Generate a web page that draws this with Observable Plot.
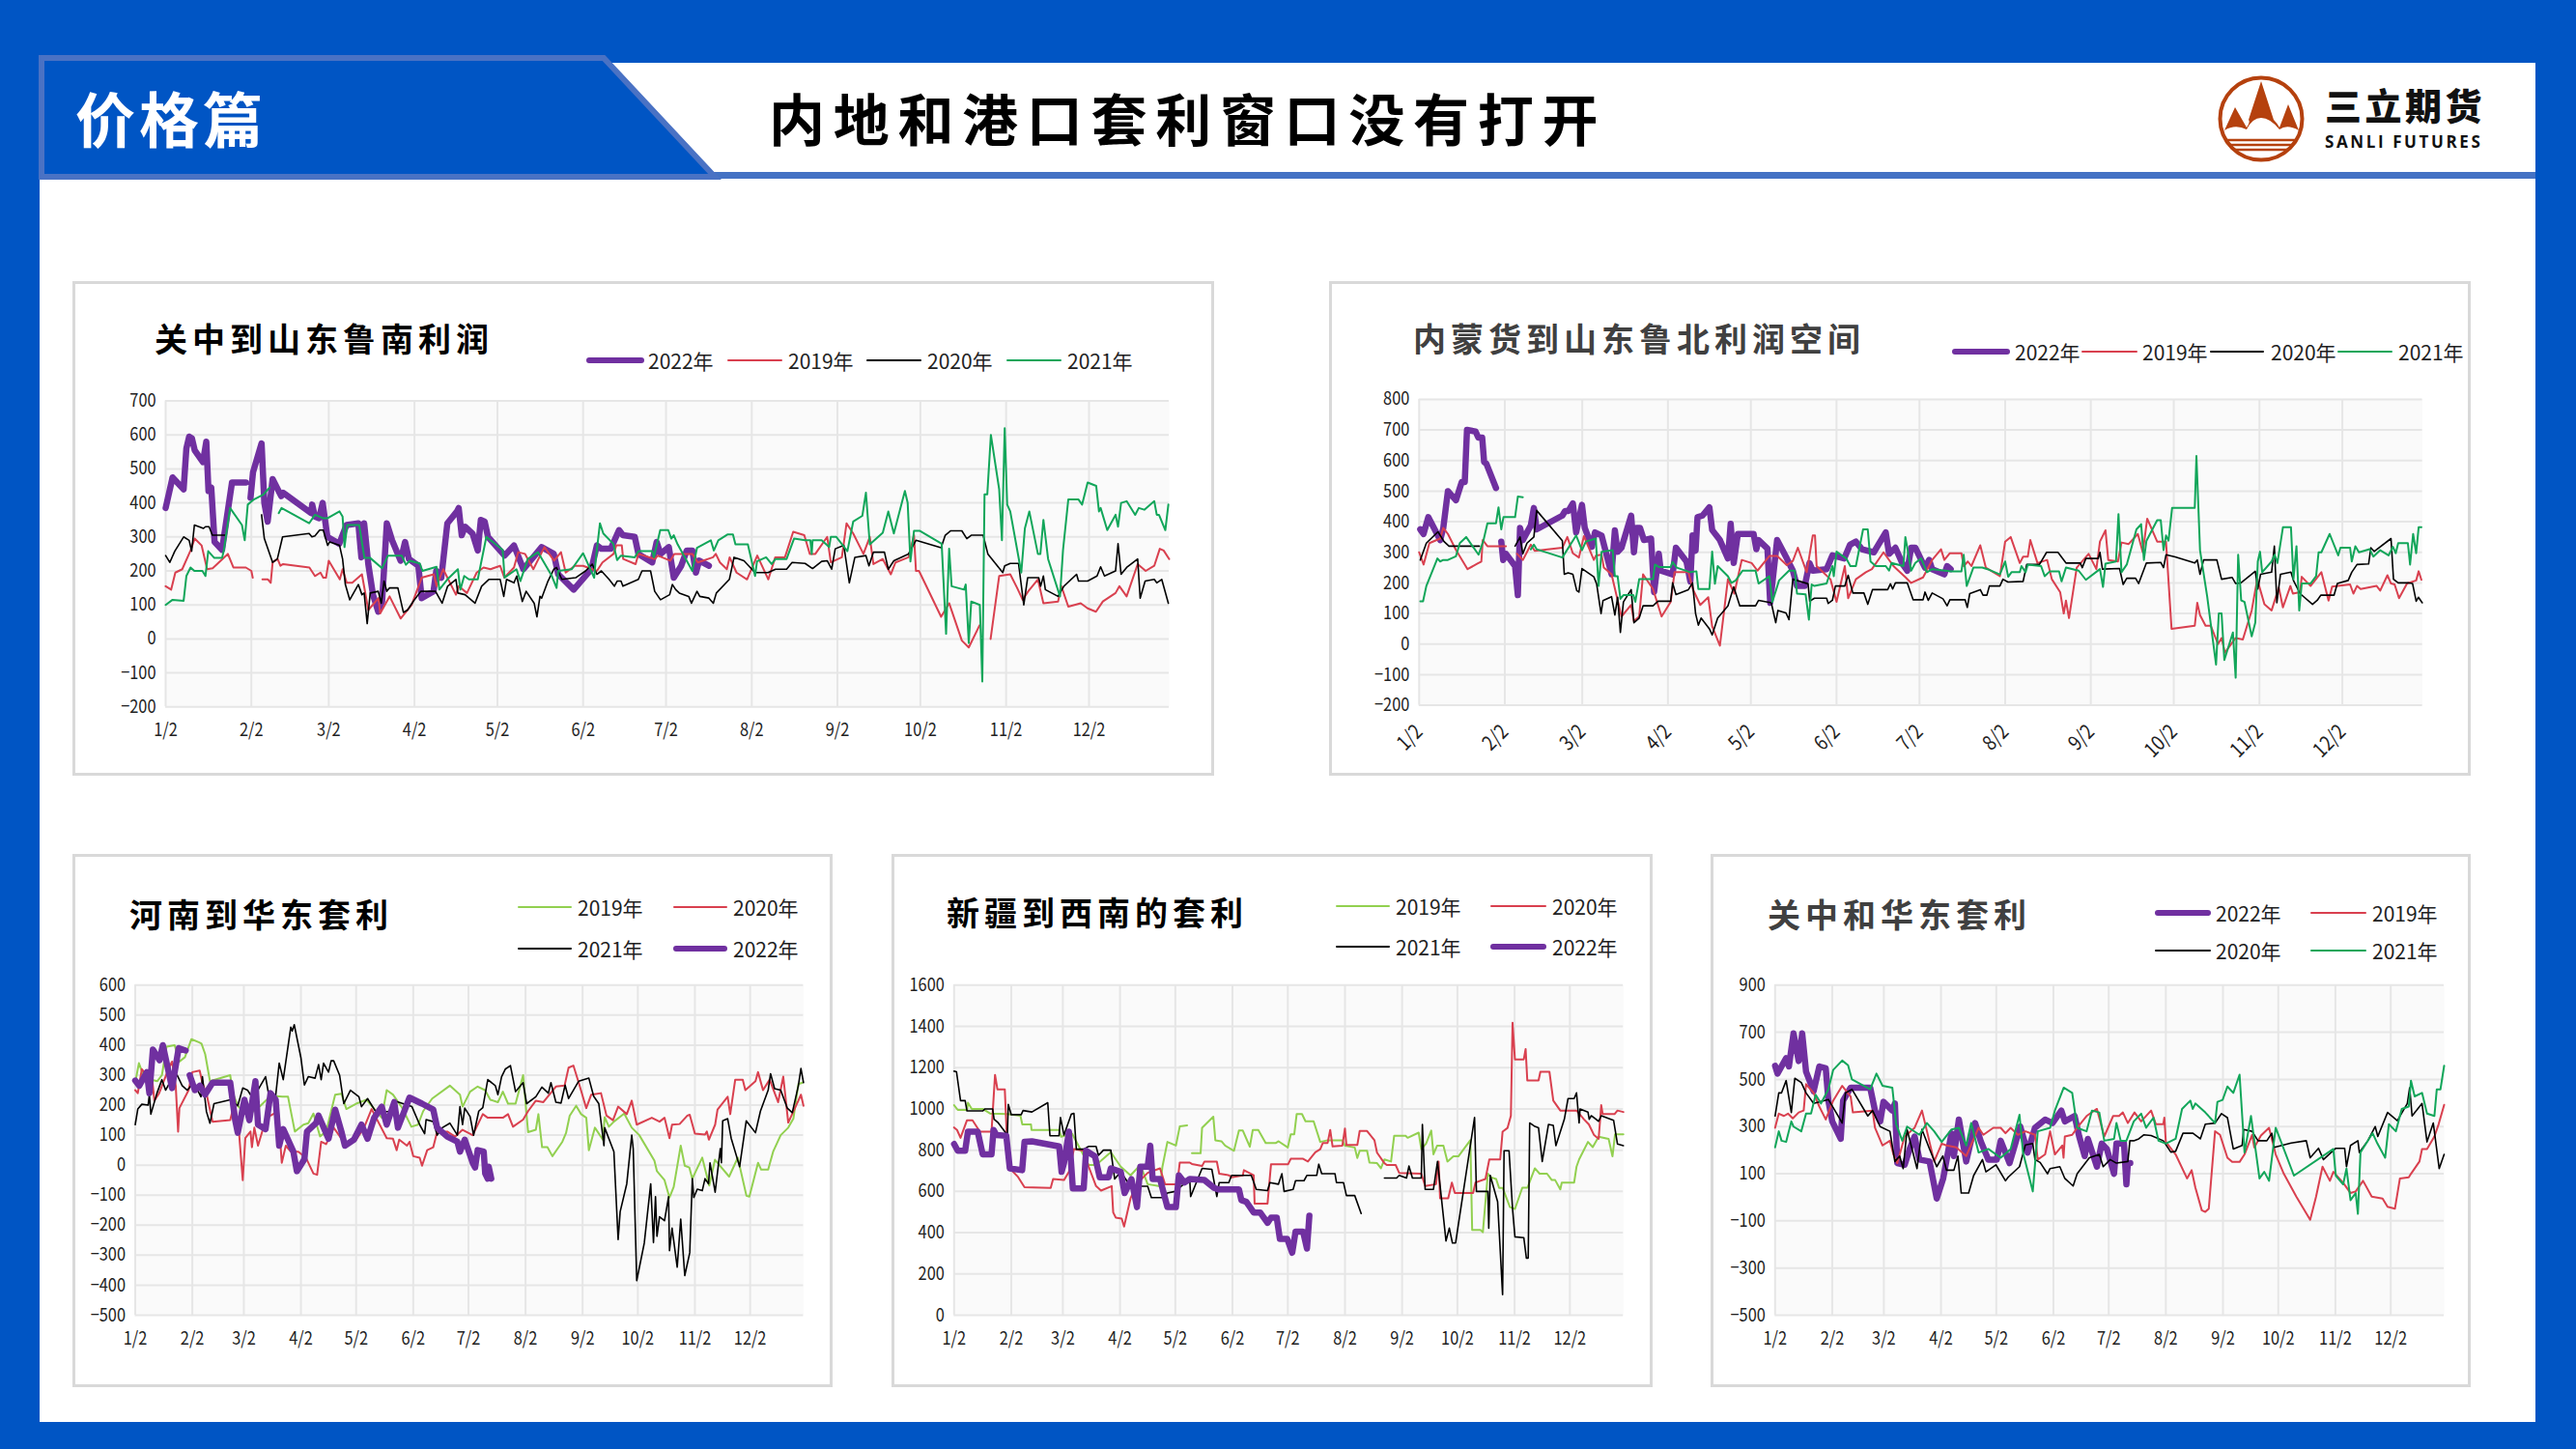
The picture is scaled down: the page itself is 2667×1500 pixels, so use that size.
<!DOCTYPE html>
<html lang="zh"><head><meta charset="utf-8">
<script src="https://cdn.jsdelivr.net/npm/d3@7"></script>
<script src="https://cdn.jsdelivr.net/npm/@observablehq/plot@0.6"></script>
<style>
html,body{margin:0;padding:0;background:#0055c4}
#page{position:relative;width:2667px;height:1500px;overflow:hidden;background:#0055c4;font-family:"Noto Sans CJK SC",sans-serif}
#sheet{position:absolute;left:41px;top:65px;width:2584px;height:1407px;background:#fff}
#chrome{position:absolute;left:0;top:0}
.panel{position:absolute;box-sizing:border-box;border:3px solid #d9d9d9;background:#fff}
.panel svg{position:absolute;overflow:visible;max-width:none}
.title{position:absolute;font-weight:700;font-size:34px;letter-spacing:5px;line-height:40px;white-space:nowrap}
.lg{position:absolute;font-family:"Liberation Sans Narrow","Noto Sans CJK SC",sans-serif;font-size:21px;line-height:24px;color:#222;white-space:nowrap}
.sw{position:absolute;border-radius:3px}
</style></head><body>
<div id="page">
<div id="sheet"></div>
<svg id="chrome" width="2667" height="1500" style="font-family:'Noto Sans CJK SC'">
 <rect x="41" y="178" width="2584" height="7" fill="#4472c4"/>
 <polygon points="43,60 625,60 740,183 43,183" fill="#0055c4" stroke="#4a72c4" stroke-width="6"/>
 <text x="78" y="148" fill="#fff" font-size="62" font-weight="700" letter-spacing="4">价格篇</text>
 <text x="796" y="146" fill="#000" font-size="58" font-weight="700" letter-spacing="8.7">内地和港口套利窗口没有打开</text>
 <circle cx="2341" cy="123" r="42.5" fill="none" stroke="#b5410e" stroke-width="4"/>
 <path d="M2303 135 L2314 111 L2326 132 Q2330 126 2328 124 L2341 84 L2354 124 Q2358 128 2360 132 L2369 108 L2380 135 Q2368 128 2360 134 Q2350 122 2341 122 Q2332 122 2326 134 Q2314 128 2303 135Z" fill="#b5410e"/>
 <path d="M2304 145H2378M2307 150H2375M2314 155H2368" stroke="#b5410e" stroke-width="2.5"/>
 <text x="2407" y="124" fill="#111" font-size="38" font-weight="900" letter-spacing="3.5">三立期货</text>
 <text x="2407" y="153" fill="#111" font-size="17" font-weight="700" letter-spacing="2.6" style="font-family:'Open Sans'">SANLI FUTURES</text>
</svg>
</div>
<script>
const monthDays=[0,31,59,90,120,151,181,212,243,273,304,334];
const monthLabels=["1/2","2/2","3/2","4/2","5/2","6/2","7/2","8/2","9/2","10/2","11/2","12/2"];

const c1y2022=[0,385,2.5,475,6.5,440,7.5,560,8.5,595,9.5,590,10.5,555,13.5,520,14.7,580,15.5,435,16.5,445,17.7,285,20.4,262,24,460,29,460,30,null,30.7,415,31.6,490,34.7,575,35.7,400,36.9,345,38.7,470,41.8,420,42.5,430,52.6,370,53,395,54,360,55.5,355,56.8,400,58.5,300,62.8,280,65.4,335,69.7,340,70.8,240,71.8,340,73.3,220,75,130,76.9,80,78.3,110,80,340,81.9,290,85,230,86.6,285,88,235,91.4,215,92.6,120,96.9,140,97.9,200,99.7,180,101.9,340,105.4,375,106,385,107.1,305,108.3,330,111,310,112.9,260,114,350,115.4,345,116.6,300,122.6,245,126,275,129.4,205,136,270,140.4,250,142,190,147.6,145,154,205,156,275,157.6,265,161,265,164,320,165.4,305,169.7,300,171,250,176,225,177.6,285,179,250,182,270,183.8,180,186.5,215,188.5,260,190.5,260,191.8,195,193,230,196.5,215];
const c1y2019=[0,155,2,145,3.5,195,6,205,9,260,10.5,295,13,275,15,205,17,208,22.5,250,24.5,210,29,210,31,200,31.5,180,33,null,35,175,37,175,38,165,38.7,225,40.5,235,41.5,215,42.5,220,52,210,54,185,56,195,57,180,58,180,59,230,63,175,64,205,65.5,165,67.5,165,71,190,73.3,85,77,120,77.6,75,81,125,85,60,89,100,92.6,180,97,190,98,155,100.4,205,105,130,106,155,109,135,112.5,195,115,210,117.5,205,121,215,122.5,180,126,210,127.5,255,130,250,133,205,137,270,140.5,230,143,255,144.7,195,148,215,151,215,156,200,158,225,162,250,163,275,165,275,165.5,235,170,220,171,250,177,235,178,245,182.5,230,184,250,190.5,250,192.5,225,198,240,199,250,200.5,225,203,205,204,240,206.5,195,210.3,175,214,245,218,175,220.5,240,224,240,227,315,231,305,233,250,235,250,239.3,300,240.6,225,244.6,240,246.3,340,248.7,310,252.4,250,254.7,300,256,220,259.4,235,262.3,190,264,225,268.7,240,270.7,305,271.4,200,272.5,200,280.5,65,283.4,105,288,-5,290.5,-25,294.4,40,296,null,298.4,0,301.5,185,305.5,190,308,150,310,115,312,140,315.5,175,317.5,105,322.8,110,324,155,326.5,95,331,105,333.5,90,336.5,80,339,110,343.6,135,345,155,347.6,125,351.6,220,354.5,200,357.6,215,359.6,265,361,260,363,235];
const c1y2020=[0,245,1.5,225,3.3,258,6.5,300,8.5,290,9.4,258,10.4,335,13.7,325,14.4,330,15.7,330,16.9,305,21.4,305,28,null,34.7,365,35.7,295,38.7,225,40.4,235,42.3,300,51.9,310,52.9,300,54,303,55.7,320,57,320,58.6,275,59.3,285,62.9,275,64,235,65,160,66.6,115,69.7,160,71,130,71.8,135,72.9,45,74,135,76.9,140,78,105,79,170,80,140,81,150,84,150,86,78,87.5,85,89.7,112,92.3,140,97.6,140,100,105,102,155,105,175,105.7,135,108.3,130,111.9,105,114.3,155,116.9,175,121,175,122.3,125,123.3,175,126,165,127,185,129,110,130.4,140,133.3,105,134.3,65,135.4,125,136,120,138.3,170,140.4,205,141.4,210,143.3,175,148.3,180,151.9,200,154.3,220,156,190,157.6,200,160.4,175,162.3,155,163.3,170,164.7,170,165.4,155,171,175,172.3,200,175.4,200,176.9,140,179,115,182.3,130,183.3,160,184.5,145,185.8,135,189.2,125,190.2,105,192.2,140,193.2,125,196.5,120,198.1,105,199.2,135,203.9,175,205.6,240,209.2,230,212.6,200,213.2,195,217.9,195,220.6,205,224.6,205,226.6,225,231.3,222,234,207,237.3,228,239.3,230,240.9,205,242.2,265,245.3,275,247.3,165,249.3,240,253.3,245,254.4,215,256,255,260,255,261.4,205,263.4,230,268.7,250,271.4,290,280.5,268,282,305,284,318,288,318,289.8,295,291.4,305,295.7,305,297.4,250,302.8,195,303.5,215,305.5,222,308.5,222,310.4,100,311.8,180,315.8,180,316.5,155,317.5,185,318.2,145,322.8,125,324.9,155,329.5,190,330.2,170,333.5,170,336.9,185,338.2,212,339.6,185,343.6,200,344.5,280,345.6,190,347.6,210,351.6,235,352.5,120,354.3,170,357.6,175,358.5,165,360.3,175,362.7,105];
const c1y2021=[0,100,2.5,115,6.5,112,7.5,185,9,210,10.4,200,13.3,200,14.4,185,15.4,258,17.6,238,20.4,238,21,258,23.3,385,27.6,335,28.6,290,29.7,395,31.9,410,35.4,425,37.6,445,39,null,40.9,370,41.9,385,51.9,340,54,365,56.9,355,58.6,355,62.9,375,64,360,64.7,270,65.7,335,70,335,71.9,238,74,238,78.3,208,80.4,245,85.4,245,86.9,218,88.3,230,91.9,222,92.9,200,98,212,99,145,101.9,175,105.7,205,106.6,145,108,185,109.7,175,112.9,175,116,300,121.9,262,122.6,180,126.9,205,128.3,170,131,235,134.7,255,139.7,185,141.4,150,142,200,146.9,205,151,252,155,180,155.6,235,157.1,340,158.3,310,161.9,280,163.3,232,164.7,245,169.7,240,171,258,176,258,176.6,240,178.9,320,181.8,320,182.9,295,183.8,305,185.2,278,190.5,200,192.2,268,197.2,290,198.3,260,199.9,290,203.2,307,205.2,307,206.1,278,210.6,278,213.2,185,213.9,228,217.2,240,219.2,220,220.6,235,224.6,235,227.3,295,231.3,290,233.2,290,233.7,250,234,290,237.3,290,240,270,240.6,300,242.6,300,246.6,258,248.7,345,252,362,253.3,430,254.7,278,259.4,312,261.4,375,263.4,310,267.4,435,268.4,400,269.4,228,270.7,318,272.7,318,280.7,280,282.3,15,283.4,265,284.3,155,288.8,145,289.4,160,290.5,-12,291.4,110,294.5,100,295.4,-125,296.2,425,297.2,425,298.5,600,301.5,440,302.5,290,303.5,620,304.4,395,305.5,375,309.5,195,310.8,325,312.4,375,315.5,250,316.4,250,317.5,350,319.2,235,323.5,125,324.6,262,326.5,410,330.2,410,331.5,395,333.5,460,336.6,450,337.6,375,338.2,385,340.6,320,343.6,365,344.5,330,345.6,400,347.6,405,350.7,365,352,385,354,380,357.6,405,358.5,365,359.3,365,361.6,320,362.7,395];

const c2y2022=[0.4,375,1.6,360,3.3,415,7.6,340,8.7,378,10.4,500,13.3,470,15.4,530,16.5,530,17.3,700,20.4,695,21.4,675,22.8,675,23.5,595,24.3,590,27.8,510,28.8,null,29.7,335,30.4,275,31.4,295,34.7,255,35.7,160,36.5,380,37.5,340,40.4,388,41.5,445,42.5,375,51.8,420,52.8,435,54,435,55.6,460,56.8,365,58.9,455,59.9,380,62.5,318,63.6,365,66,355,69.6,228,70.8,372,71.8,302,73.2,315,76.7,420,77.7,300,78.6,380,79.9,380,81.3,340,83.9,345,85,170,86.7,295,87.4,240,91.7,228,92.9,315,96.7,270,98.1,205,98.9,355,100,305,100.7,415,102.5,420,105,447,106,373,108.8,340,111.7,280,112.7,393,113.8,265,115.3,360,121,360,122,310,122.8,340,126,312,127,135,129.5,340,133,280,135.2,240,136.7,190,139.5,190,141.2,265,142.4,240,147.4,245,149.5,290,153.8,280,155.9,325,158,335,160.2,310,164.5,300,168.8,365,170,295,172.3,315,175,260,176.6,240,178,315,179.5,315,183,250,184.5,275,185.6,245,190,228,191,255,192.3,245];
const c2y2019=[0,300,1.6,260,3.7,330,7.6,345,8.7,380,10.4,360,13.3,308,17.5,245,21.1,263,22.5,270,23,340,24.7,320,31.4,320,33,null,35.4,295,37.5,275,40.4,325,41.8,305,51.8,315,53.6,350,55.6,297,57.8,283,59.6,353,63.2,275,64,290,66,292,66.8,250,69.6,228,73.2,90,76.7,128,77.7,75,79.6,90,81,228,84.6,180,87.7,90,91,138,92.4,235,97.4,235,99,180,101.7,128,104.6,153,106,58,108.8,-5,111.7,212,114,165,116.7,275,120.3,265,122.4,240,126.7,288,129.5,288,133,258,135.2,272,137,315,140.2,235,142.4,355,143.2,355,143.8,255,148.8,212,151,138,154,255,155.2,150,158,212,161.6,235,163.8,245,168,300,171.6,255,176,218,178,200,182.3,218,185.6,275,188.8,310,190,275,192,297,196.2,297,197,255,198.5,270,199.8,255,203,323,205,250,210.1,222,212,335,214,350,217.3,265,218.5,286,220.2,286,221.1,340,223.7,265,227.2,275,228.9,212,231.9,170,233.2,100,234,142,235.1,85,237.9,250,242.2,295,245,245,246.3,335,248.3,372,249.3,275,252.8,270,254.1,332,256.7,327,260,360,261.8,300,263.4,410,267,335,270.2,335,272.2,50,280.6,60,281.5,135,282.5,95,284.5,60,286.4,60,289,0,290.3,20,291.5,-28,295.4,20,298,15,301.2,110,303.2,212,305.8,130,308.4,110,311,185,312.5,120,315.2,190,316.1,165,318.7,170,319.3,220,322.5,190,326.4,235,329,142,330.3,188,336.8,195,338,165,339.3,190,340.6,180,346.4,190,347.7,175,350.3,225,351.6,198,352.9,195,354.5,150,357.4,198,360.7,208,361.6,238,362.6,210];
const c2y2020=[0.4,275,2.6,330,6.8,367,9,335,10.8,320,21.8,320,28,null,34.7,320,36.5,350,37.5,295,39,330,41.5,350,42.5,437,51.8,338,52.5,228,53.9,233,55.6,228,57,175,57.8,170,58.9,247,63.2,220,64.2,197,65.8,100,66.5,142,69.6,155,70.8,95,71.8,153,72.8,38,73.9,138,76.7,178,77.7,70,79.6,85,81,125,84.6,125,86.4,140,91,140,91.7,200,92.9,162,97.4,178,98.9,200,100,100,101,62,102,85,105,50,106,30,108,85,111.7,125,113.8,187,116,125,121.7,125,122.8,143,127.4,135,129,70,129.8,110,132.7,102,133.8,80,135.2,212,140.7,197,141.3,140,143,150,147.4,150,148,133,149.5,143,150.6,190,154,190,155.2,225,156.9,167,160.9,167,162.3,130,164,178,169.5,178,170.5,197,171.3,180,172.3,200,176.6,200,178.7,145,182.3,145,183,170,184.2,143,185.6,167,189.5,148,191,125,192,145,197.5,145,198.3,120,199.2,165,203,178,204,160,205.4,160,206.3,190,210.1,190,211.2,212,213,203,218.5,205,219.8,260,224.4,260,227,300,231.1,300,234,265,239.2,265,239.9,250,241.2,280,245.7,280,246.3,300,247.2,245,253.4,247,254.7,195,256,215,259.2,215,260.3,198,263.1,265,268.3,267,269.3,250,270.2,292,273.5,285,280.6,265,281.5,275,282.5,228,283.8,275,288.6,275,290.3,212,294.1,218,295.4,198,297.3,200,302.5,238,303.4,180,304.4,228,308.4,235,309.4,320,310.3,135,311.6,228,315.4,235,316.3,208,318.7,165,323.2,130,324.9,143,326.2,160,331,160,332.2,198,336.1,208,337.4,235,339.3,260,343.5,262,344.3,315,345.5,303,351.6,345,352.5,212,354.2,200,358,200,359.4,198,360.7,140,361.5,153,362.9,135];
const c2y2021=[0.4,140,1.4,140,2.6,190,6.6,280,7.6,270,8.7,275,10.4,275,13.3,287,14.7,330,17,350,21.5,292,23.3,340,24.7,395,27.8,395,28.7,447,29.7,375,30.5,415,34.7,415,35.7,482,37.5,480,38.5,null,40.4,310,41.5,325,42.5,310,51.8,283,56.8,355,58.9,307,60.3,335,63.9,345,64.9,190,66,302,70,307,70.8,222,71.8,222,72.8,148,73.9,160,77.5,160,78.2,138,79.6,212,84.6,212,85.3,260,86.7,252,91,252,91.7,268,93.2,250,98.1,235,100.3,238,101,180,105,180,106,302,107,197,108,255,111.7,222,113,200,114.5,208,117,240,121.7,240,122.8,198,126.7,222,127.8,138,130.2,208,133.8,240,135.9,240,136.7,165,139.8,163,141,80,142,195,143,190,147.4,198,149.5,255,150,222,151,302,154.5,280,156,255,158,255,160.6,375,162.3,375,163.3,270,165.2,255,168.8,255,170,240,170.9,265,175.2,255,175.9,350,178,240,179.5,265,181.6,280,183.7,235,185.6,245,192.7,238,196.2,238,197,292,198.1,190,200.5,250,203.7,250,205.6,245,210.1,228,212,270,213.1,220,214.3,235,217.3,235,217.9,255,219.4,235,220.2,260,225,255,226.3,222,228.2,238,231.5,238,232.4,205,234,250,238.6,240,241.2,210,246.3,245,247.4,187,248.3,263,252.1,270,253,425,254.1,235,256,260,259.5,375,261.2,392,262.2,275,263.1,337,267,405,268.3,405,269.3,307,270.2,355,271.1,338,272.4,445,280.6,445,281.2,615,282.5,307,285.1,155,288.3,-67,289.3,100,290.3,100,291.3,-52,294.4,38,295.4,-110,296.3,292,297.4,143,298.6,138,301.2,25,302.5,70,303.4,270,304.2,302,305,235,308.4,270,309.5,292,310.5,265,312.5,382,315.4,382,316.3,212,317.4,320,318.4,110,319.3,198,322.5,198,324.5,222,325.4,300,326.4,300,329.4,360,332.5,290,333.3,315,336.8,315,337.4,270,338.7,320,340,300,343.9,310,345.2,286,347.7,307,350.7,290,352.3,318,353.3,297,354.2,330,357.7,330,358.5,260,359.6,360,360.7,297,361.6,382,362.6,382];

const c3y2019=[0,275,2,340,5,290,12,280,14.5,300,17,395,21.4,400,24,345,27,360,30.5,420,34.5,410,36,405,38,370,40.6,280,51.6,300,53,240,55.7,198,61,165,68,198,73,228,76.8,230,80,228,83,228,86.7,112,91.4,135,94,140,96.8,172,100.4,96,103.7,112,108.6,235,112,238,114.7,187,120,205,125.6,218,133.9,158,136.6,250,140,235,144.9,192,150,128,153.6,135,156.4,180,161.3,222,170.9,265,176.4,235,177.8,195,181.9,245,186,262,190,250,192.9,218,197,210,199.7,245,202.5,205,206.6,205,210.7,300,213.4,110,217.6,118,219,170,221,60,223.9,60,226.6,30,232,78,234,107,236,165,239.5,198,242.2,170,245,158,246.4,50,249.7,125,254,85,255,160,257.3,128,260,145,265.6,172,269.7,125,273.8,100,282,15,283.4,-20,287.5,-50,290.2,-108,292.5,-72,296.3,65,298.5,-2,301,-8,302.6,-45,308,25,311.8,-68,314.9,18,322.6,-38,327.3,25,332,-102,333.6,-105,338.3,8,340,-15,343.8,-15,346.5,45,350.6,100,354.7,125,357.5,155,360.2,270,362.4,275];
const c3y2020=[0,250,1.4,240,3.6,320,6.3,300,9,300,10.4,215,13,240,18,320,20,345,22,265,23.3,112,24,190,29,250,31,310,35,315,36.5,275,39,230,42,145,51.6,150,54,210,56.5,100,58.4,-50,59.8,90,62.6,112,63.4,60,64.7,125,66.7,65,71.3,160,73.5,165,77.6,180,79.6,8,81.8,65,84.5,45,88.6,45,92.7,25,96.8,-28,98.8,-32,101,78,103.7,70,107.8,125,114.7,65,120,85,124.3,125,128.4,187,136.6,90,140,88,142,50,143.4,85,147.6,65,149,78,151,30,154.5,25,155.8,-2,158.6,50,161.9,60,164,112,169.5,112,173.7,95,177.8,118,183.3,100,188.8,170,191.5,158,199.7,158,202.5,170,205.2,128,210.7,152,213.4,180,217.6,215,221.7,210,228.5,262,233.2,265,235.4,325,238,332,240.9,275,245,190,247.7,235,253,240,256,165,259.5,150,262.3,195,267,170,269.7,215,272.4,135,280.6,158,284.8,145,287.5,158,290.2,90,291.6,135,295.7,137,299.9,165,301.2,168,304,105,309.5,102,310.5,112,311.6,85,315,135,316.3,185,321.8,228,323.2,170,325.9,285,330,285,331.4,250,336.9,280,338.3,310,341,250,344.6,285,349.2,210,352,295,354.7,142,360.2,215,361.6,235,363,198];
const c3y2021=[0,135,1.4,187,3.6,203,7,200,7.7,235,8.5,170,11.8,240,14.5,285,16.5,250,18.7,275,22.8,300,25.5,265,28.3,250,31.8,275,35.7,228,36.5,295,38.7,178,40.6,140,42.8,205,51.6,218,55.7,198,58.4,257,61,250,64,222,70.8,295,72.7,228,76.3,233,78.2,340,80.4,285,84.5,460,85.3,447,86.4,468,90,358,91.9,267,94,295,97.7,290,99.6,335,101,285,102.3,340,105,310,106.4,348,107.8,348,111,300,113.3,205,116.9,250,121.5,228,122.9,195,126.2,222,131,175,139.4,180,140.7,215,150.3,195,154.5,135,157.2,105,158,152,161.9,145,164,100,166.8,125,170.9,140,175,100,176.4,195,177.8,135,179,190,181.9,162,183.8,100,186.6,180,188.8,192,191.5,285,195.6,265,197,235,199,295,201,320,203.8,332,206.6,245,210.7,275,212.6,205,217.6,228,220.9,260,224.4,240,225.8,275,228.5,210,231.3,207,233.5,267,235.4,222,240.9,280,246.4,290,249,230,251.8,205,254.6,65,255,125,260,45,262.3,-248,263.4,-155,267,-62,269.7,100,270.5,55,272.4,-385,276.5,-260,280,-62,281.5,-258,282.6,-105,283.4,-237,284.8,-172,287.5,-185,289.7,-105,290.2,-285,291.6,-210,294.4,-340,296.3,-180,298.5,-368,301.2,-292,302.6,-45,303.4,-108,305.3,-80,308,-85,309.5,-45,311.4,-62,312.2,8,315,-90,317.8,55,318.4,8,319.1,148,321.8,155,323.7,90,328.3,-5,331.9,148,336.9,108,339.6,180,343.8,250,345.1,305,347.3,255,350.6,250,354.2,190,356.9,175,360.2,265,361.6,322,363,275];
const c3y2022=[0,282,2.2,265,6.3,310,7.7,240,9.6,385,13.2,350,15,400,17.3,335,20,257,23.6,390,27.4,382,28.5,null,29.6,300,32.4,250,35.1,265,37.9,235,42,275,51.6,275,54.3,150,55.7,108,59.3,218,62,150,65.3,280,66.7,135,70.8,120,73.5,240,76.3,218,78.2,65,80.4,120,85.9,45,87.8,-20,91.9,20,93.3,112,98.2,140,99.6,165,105,88,108.6,185,112,112,113.9,65,118.8,85,122.9,135,126.2,88,129.8,158,133.9,195,136.6,135,140.7,210,142.7,125,149,225,155.8,205,161.9,185,164,125,169.5,95,175,78,176.4,45,179,85,183.3,8,184.6,-8,186,50,189.3,45,190.1,-28,191.5,-45,192,-5,193.4,-45];

const c4y2019=[0,1018,2,995,7,995,7.5,1030,9.6,1000,15.5,1000,19.5,978,28.9,975,36,967,37,925,41.7,925,42,898,57,898,58,865,64,880,73,728,77,728,85,790,90.4,720,95.7,678,101,728,105,635,111.7,625,113,720,115.7,840,120.3,822,122.4,915,126.4,920,127.5,null,129,785,133.7,785,134.5,908,140.6,962,141.7,848,145,843,147,822,151.8,797,154.5,895,156.6,895,160.4,817,162,898,165,898,169,835,174.6,835,176,843,181,813,182.6,877,184.5,877,185.8,975,188.7,975,190.6,940,195,940,198.6,840,202.6,848,210.6,848,212,822,217.3,813,218.7,762,220,797,224,797,225.3,740,229.4,737,231.5,712,233.4,755,237,745,238.7,870,244.9,870,246,860,252,885,253.4,805,256,832,258.8,895,260,780,262,822,265.4,822,267.6,745,270.8,770,273.5,770,280,848,281,413,285.5,413,286.8,402,289.5,686,291.4,668,294,660,295.6,617,297.5,617,301.5,524,304.2,515,308.2,618,311,618,315,712,317.6,686,321.6,686,324.2,655,326,655,328.8,610,329.6,643,336.3,643,337.6,720,339,755,343.8,840,346.4,815,349.6,865,355,855,357.1,770,358.5,877,363,877];
const c4y2020=[0,910,1.6,898,3.5,860,7,945,10,945,14,890,20.3,890,22.2,1165,23.5,1095,27.5,1095,28.9,805,30.2,712,34.7,670,38.2,620,52.4,617,53.7,660,59.6,655,62.3,695,65,805,70.3,797,73,720,77,626,79.7,604,85.5,626,86.3,498,87.7,473,90.9,468,92.2,430,95.7,567,99.7,643,105,690,111.7,712,114.4,635,121,635,122.4,740,127.8,740,129,733,134.5,723,135.8,745,142.5,745,143.8,686,149.2,678,150.5,668,156.6,678,157.2,703,162.5,678,163,541,170,541,171.9,732,181.2,732,182.6,758,189.3,758,191.9,745,195.9,790,198.6,805,200,835,202.6,835,204,898,205.3,818,210.6,822,212,905,212.8,825,218.7,825,220,893,224,893,228,848,229.4,788,233.4,737,234.7,728,239.5,728,241.4,690,253.4,686,255.5,626,261.4,635,262.8,745,263.6,567,268,567,270,643,271.6,592,281.5,592,282.8,643,288.2,660,290.3,755,296.2,755,297.5,890,300.2,908,302,967,302.9,1418,304.2,1240,309,1240,310,1290,310.9,1138,317,1138,318,1180,322.9,1180,325,1040,328.8,992,337.6,992,341.6,950,344.3,925,347,875,349.6,855,351,1018,351.8,975,358.2,975,359.8,992,363,985];
const c4y2021=[0,1183,1.3,1180,3.5,1040,6,1040,7,990,15.5,990,16.8,1000,20.9,1000,21.7,950,24,932,28.9,873,29.4,1022,31,972,36.4,972,37.4,992,42.2,985,50.8,1030,52,870,56.9,870,57.7,958,59.6,873,63.6,975,65,978,66.3,805,70.3,805,73,818,77,818,78.3,775,81,800,85,800,87.1,660,90.4,695,93,660,95.7,625,105,625,107,570,113,570,115.7,592,119.8,600,127.8,660,128.3,575,134.5,712,139.8,707,142.5,575,143.8,643,149,643,150.5,678,161.2,678,163.9,610,170,604,171.3,643,175.9,635,177.8,686,179,600,183.9,610,185.2,652,189.8,652,191.4,678,196.7,678,197.8,732,199.4,686,206.6,686,207.4,643,211.2,643,212.8,580,217.3,580,220.8,493,222,null,233.4,665,240,665,241.4,678,245.4,665,246.7,723,248.6,665,253.4,665,254,925,255.5,610,260,610,262.2,745,266.8,360,268.6,422,270.3,350,272,350,282.3,958,283.3,600,289.5,600,290,422,290.8,678,294.8,550,297.5,100,298.3,797,301,797,302.9,515,304.2,380,309,376,310.4,277,311.4,277,312.2,932,315,915,317,908,319,745,322.4,925,325,920,326.4,822,331,950,333,1050,336.3,1050,337.6,1078,339,932,339.5,1000,343.8,985,344.5,950,345.6,967,349.6,940,351,967,357.7,945,359.8,830,363,822];
const c4y2022=[0,830,2,797,6,797,7.5,890,12.8,890,15.5,780,20.3,780,21.4,898,23,873,28.3,870,30.2,712,36.9,703,38.2,840,42.2,843,57,818,58.3,695,59.6,737,62.3,890,64.4,615,70.3,615,71.6,797,76.4,770,79,668,83.8,668,85,712,90.4,695,92.5,592,96.2,660,99.2,524,101,720,105,720,106.4,822,107.7,660,111.7,660,115.7,524,120.3,524,121.9,678,125,643,127.8,660,135.8,655,141,617,143.3,610,154.5,610,155.8,558,158.5,550,162.5,498,166,498,170,448,171.9,473,175,473,176.7,370,180.7,370,183.4,303,185.2,405,189.3,405,191.4,323,192.7,482];

const c5y2022=[0,558,1.3,525,6,590,7.5,555,10,695,12.8,578,14.7,695,16.8,533,20.9,450,24,555,27.5,547,28.9,410,31,322,35.6,248,36.9,410,41,465,51.6,465,54.2,368,57,322,58.8,405,63.6,368,65,398,66.3,145,70.3,138,73,205,75.7,258,78.3,160,83.8,152,87.7,-5,91.2,80,95.7,272,97,175,99.7,330,103.7,152,108.5,315,111.7,235,115.7,160,120.3,160,122.4,240,127.2,145,133,300,137,190,141,295,146.5,330,150.5,315,155.3,368,157.2,322,162.5,345,165,258,168,175,169.7,248,174.6,130,177.2,228,180,205,183.9,100,185.2,228,189.3,228,190.6,55,191.4,145,192.7,145];
const c5y2019=[0,295,2,355,4.8,345,7,355,9.6,335,12.8,360,15.5,368,16.8,480,20.9,443,24,385,27.5,330,31.5,410,36.4,473,41,428,42.2,360,52.9,368,54.2,295,58.3,220,62.3,240,64.2,182,66.3,145,70.3,258,75.7,295,79.7,368,82.4,280,86.3,152,90.4,228,93,220,98.3,212,103.7,175,110.4,295,113,265,118.4,295,122.4,295,125,272,127.8,295,131.7,265,135.8,280,141,265,142.5,160,146.5,182,149.2,280,151.8,182,155.8,220,156.5,168,157.2,258,161.2,265,163.9,295,169,345,174.6,375,178.6,258,183.4,345,186.6,345,188.7,360,191.4,315,195,360,198.6,322,204,368,206.6,310,210.6,310,211.2,338,212,235,217.3,182,223.5,80,226,115,228,42,231.5,-55,233.4,-62,235.3,-48,238.7,280,241.4,265,245.4,168,248,150,252,150,254.7,182,258.8,265,260,212,263.6,262,268,295,271.6,182,276,100,282.8,3,290.3,-95,293.5,3,297,130,301,70,302.9,108,308.2,62,312.2,18,315,25,319,70,323.7,3,329.6,-5,332.3,-40,336.3,-48,339,80,343.8,85,345,100,349.6,152,351,205,353.7,205,357.7,258,360,310,363,392];
const c5y2020=[0,345,2,443,3.5,443,6,495,8.8,360,10.7,505,14.2,487,16.8,443,20.9,398,28.9,415,34.7,338,36.4,315,38.2,443,41.7,458,50.3,345,52.9,368,57,300,62.3,280,65,152,67.6,175,69.5,122,71.6,288,77,122,79.7,288,83.8,205,87.7,130,91,175,93,115,97,115,99.2,175,101,18,105,18,107.7,92,112.5,160,114.4,108,119.8,138,125,70,126.4,85,132.6,130,135.8,222,139.8,228,141,160,143.8,148,147.8,100,149.2,122,154.5,130,157.2,80,161.7,48,163.9,100,170.5,168,175.9,182,178,130,181.8,160,185.2,145,191.4,152,192.5,240,194.6,240,197.3,248,200,265,204,262,210.6,240,214.7,192,217.3,195,221.3,272,226.7,272,230.7,248,233.4,310,238.7,315,242.2,355,245.4,338,248.6,205,253.4,220,254.2,288,258.8,280,262,240,266.8,240,269.5,272,270.8,212,280,230,288.2,240,290.3,168,294.8,208,297.5,160,304.2,208,309,208,310,130,312.2,220,316.2,240,317,190,321.6,240,325.6,300,327,258,332.3,360,337.6,325,343,398,344.3,465,345.6,345,351,398,353.7,235,357.1,315,360.3,122,363,182];
const c5y2021=[0,212,2,280,3.5,240,6,235,8.8,322,10,300,14.2,280,16.8,355,19.5,355,22,435,24.9,398,28.9,458,31.5,540,36.4,580,39.6,560,41.7,500,51.6,458,55,525,58.3,473,63.6,465,65.7,310,69,240,71.6,300,78.3,265,82.4,315,86.3,280,90.4,235,95.7,288,99.7,295,103.7,220,106.4,315,110.4,190,115.7,205,122.4,168,127.8,205,132.6,350,134.5,190,139.8,25,142.5,280,149.2,295,151.8,368,156.6,465,161.2,443,163.9,295,169,280,171.9,368,175.9,360,178.6,240,183.9,248,185.2,315,187.5,240,190.6,240,194.6,322,198.6,355,201.3,295,205.3,338,208,240,212,228,217.3,248,220.8,375,225.3,410,226.6,375,228,398,233.4,360,238.7,315,240,405,242.8,413,245.4,470,248.6,443,252,520,254.7,190,258.2,345,262.8,80,265.4,108,268,70,271.6,295,281.5,92,302.9,205,304.2,92,308.2,55,310,122,312.2,-12,315,18,316.2,-70,317.6,190,324.2,272,326.8,228,331,168,333,310,336.8,280,340,375,343.8,385,345,495,347,428,351,443,353.7,355,357.7,345,359,458,361,458,363,558];

const CJK="'Liberation Sans Narrow','Noto Sans CJK SC',sans-serif";
const COL={p:"#7030a0",r:"#d9404f",k:"#000",g:"#12a65a",l:"#92d050"};
const W={p:6.5,r:2,k:1.6,g:2,l:2};
const ser=(flat,key,lab)=>({pts:d3.range(0,flat.length,2).map(i=>({d:flat[i],v:flat[i+1]})),key,lab});

const panels=[
{l:75,t:291,w:1182,h:512,pl:171,pt:414.5,pr:1210,pb:731.3,dom:[-200,700],ticks:d3.range(-200,701,100),
 title:"关中到山东鲁南利润",tx:160,ty:330,tc:"#000",
 series:[ser(c1y2022,"p","2022年"),ser(c1y2019,"r","2019年"),ser(c1y2020,"k","2020年"),ser(c1y2021,"g","2021年")],
 legend:[[607,667,671,373],[753,810,816,373],[897,954,960,373],[1042,1099,1105,373]]},
{l:1376,t:291,w:1182,h:512,pl:1468.8,pt:412.9,pr:2507.6,pb:729.6,dom:[-200,800],ticks:d3.range(-200,801,100),rot:-45,
 title:"内蒙货到山东鲁北利润空间",tx:1463,ty:330,tc:"#404040",
 series:[ser(c2y2022,"p","2022年"),ser(c2y2019,"r","2019年"),ser(c2y2020,"k","2020年"),ser(c2y2021,"g","2021年")],
 legend:[[2021,2081,2086,364],[2155,2213,2218,364],[2288,2344,2351,364],[2420,2477,2483,364]]},
{l:75,t:884,w:787,h:552,pl:139.5,pt:1019.3,pr:831.4,pb:1361,dom:[-500,600],ticks:d3.range(-500,601,100),
 title:"河南到华东套利",tx:134,ty:926,tc:"#000",
 series:[ser(c3y2019,"l","2019年"),ser(c3y2020,"r","2020年"),ser(c3y2021,"k","2021年"),ser(c3y2022,"p","2022年")],
 legend:[[536,592,598,939],[697,753,759,939],[536,592,598,982],[697,753,759,982]]},
{l:923,t:884,w:788,h:552,pl:987.3,pt:1019.3,pr:1680.2,pb:1361,dom:[0,1600],ticks:d3.range(0,1601,200),
 title:"新疆到西南的套利",tx:980,ty:924,tc:"#000",
 series:[ser(c4y2019,"l","2019年"),ser(c4y2020,"r","2020年"),ser(c4y2021,"k","2021年"),ser(c4y2022,"p","2022年")],
 legend:[[1383,1439,1445,938],[1543,1601,1607,938],[1383,1439,1445,980],[1543,1601,1607,980]]},
{l:1771,t:884,w:787,h:552,pl:1837.3,pt:1019.3,pr:2530,pb:1361,dom:[-500,900],ticks:d3.range(-500,901,200),
 title:"关中和华东套利",tx:1830,ty:926,tc:"#404040",
 series:[ser(c5y2022,"p","2022年"),ser(c5y2019,"r","2019年"),ser(c5y2020,"k","2020年"),ser(c5y2021,"g","2021年")],
 legend:[[2231,2289,2294,945],[2392,2450,2456,945],[2231,2289,2294,984],[2392,2450,2456,984]]}
];

const page=document.getElementById("page");
for(const p of panels){
 const box=document.createElement("div");box.className="panel";
 box.style.cssText=`left:${p.l}px;top:${p.t}px;width:${p.w}px;height:${p.h}px`;
 page.appendChild(box);
 const rot=p.rot||0;
 const svg=Plot.plot({
  width:p.w,height:p.h,
  marginLeft:p.pl-p.l,marginRight:p.l+p.w-p.pr,marginTop:p.pt-p.t,marginBottom:p.t+p.h-p.pb,
  style:{background:"transparent",fontFamily:CJK,fontSize:"19px",color:"#222",overflow:"visible",maxWidth:"none"},
  x:{domain:[0,363],label:null},y:{domain:p.dom,label:null},
  marks:[
   Plot.frame({fill:"#fafafa",stroke:"none"}),
   Plot.gridX(monthDays,{stroke:"#e6e6e6",strokeOpacity:1,strokeWidth:2}),
   Plot.gridY(p.ticks,{stroke:"#e6e6e6",strokeOpacity:1,strokeWidth:2}),
   Plot.axisY({ticks:p.ticks,tickSize:0,tickPadding:10,tickFormat:d3.format("d"),label:null,fontSize:19}),
   Plot.axisX({ticks:monthDays,tickSize:0,tickPadding:rot?24:17,tickRotate:rot,tickFormat:d=>monthLabels[monthDays.indexOf(d)],label:null,fontSize:rot?21:19}),
   ...p.series.map(s=>Plot.line(s.pts,{x:"d",y:"v",stroke:COL[s.key],strokeWidth:W[s.key],strokeLinejoin:"round",strokeLinecap:"round"}))
  ]});
 svg.style.left=(-3)+"px";svg.style.top=(-3)+"px";
 box.appendChild(svg);
 // the reference's tick labels are set in a narrow face: condense the installed one to that width
 svg.querySelectorAll("[aria-label='x-axis tick label'] text,[aria-label='y-axis tick label'] text").forEach(t=>{
  const n=t.getComputedTextLength();
  if(n>0){t.setAttribute("textLength",(n*0.86).toFixed(1));t.setAttribute("lengthAdjust","spacingAndGlyphs");}
 });
 const t=document.createElement("div");t.className="title";t.textContent=p.title;
 t.style.cssText=`left:${p.tx}px;top:${p.ty}px;color:${p.tc}`;page.appendChild(t);
 p.series.forEach((s,i)=>{
  const [x0,x1,tx,y]=p.legend[i];
  const sw=document.createElement("div");sw.className="sw";
  const h=s.key==="p"?6.5:2.5;
  sw.style.cssText=`left:${x0}px;top:${y-h/2}px;width:${x1-x0}px;height:${h}px;background:${COL[s.key]}`;
  page.appendChild(sw);
  const lb=document.createElement("div");lb.className="lg";lb.textContent=s.lab;
  lb.style.cssText=`left:${tx}px;top:${y-12}px`;page.appendChild(lb);
 });
}
</script>
</body></html>
